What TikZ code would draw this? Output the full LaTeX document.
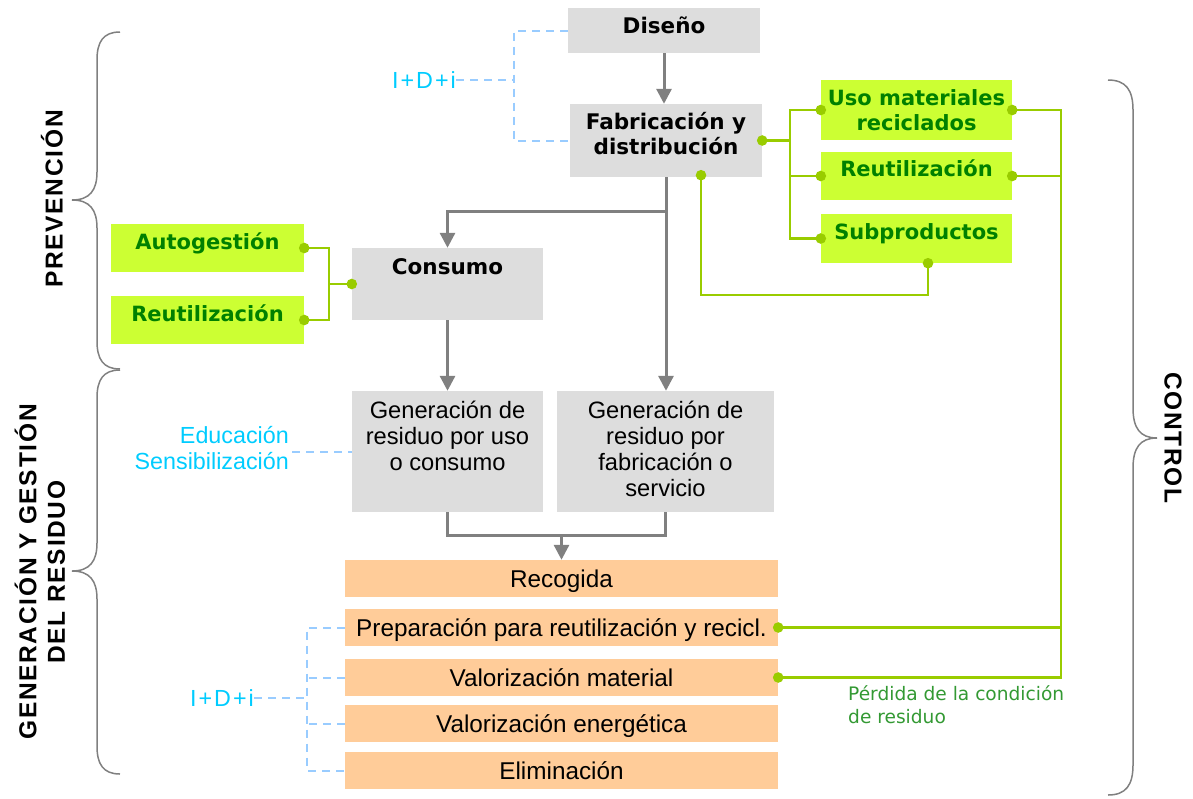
\documentclass[tikz,border=0pt]{standalone}
\usepackage{fontspec}
\setmainfont{Liberation Sans}
\newfontfamily\dvs{DejaVu Sans}
\newfontfamily\sidef[LetterSpace=7]{Liberation Sans}
\usetikzlibrary{arrows.meta,calc}
\definecolor{boxgray}{HTML}{DDDDDD}
\definecolor{argray}{HTML}{808080}
\definecolor{gfill}{HTML}{CCFF33}
\definecolor{dgreen}{HTML}{008000}
\definecolor{lineg}{HTML}{99CC00}
\definecolor{orng}{HTML}{FFCC99}
\definecolor{dblue}{HTML}{99CCFF}
\definecolor{tblue}{HTML}{00CCFF}
\definecolor{pgreen}{HTML}{339933}
\newcommand\tl[1]{\begin{tabular}[t]{@{}c@{}}#1\end{tabular}}
\tikzset{
  gbox/.style={fill=boxgray, inner sep=0pt, text=black},
  bfnt/.style={font=\dvs\bfseries\fontsize{21.5}{25}\selectfont},
  rfnt/.style={font=\fontsize{23.7}{26}\selectfont},
  grbox/.style={fill=gfill, inner sep=0pt, text=dgreen, font=\dvs\bfseries\fontsize{21}{25}\selectfont, text height=15.3pt, text depth=12pt, minimum width=191pt},
  obox/.style={fill=orng, inner sep=0pt, text=black, minimum width=433pt, minimum height=37pt, font=\fontsize{24.3}{26}\selectfont, text height=17.4pt, text depth=0pt},
  arr/.style={draw=argray, line width=3pt, -{Triangle[width=15pt,length=15pt]}},
  gline/.style={draw=argray, line width=3pt},
  gl/.style={draw=lineg, line width=2.3pt},
  dsh/.style={draw=dblue, line width=2pt, dash pattern=on 8pt off 6pt},
  bluetxt/.style={text=tblue, inner sep=0pt, font=\fontsize{23.3}{26}\selectfont},
  side/.style={inner sep=0pt, text=black, font=\sidef\bfseries\fontsize{24.5}{28.5}\selectfont},
  brace/.style={draw=argray, line width=1.5pt},
}
\begin{document}
\begin{tikzpicture}[x=1pt,y=-1pt]
\useasboundingbox (0,0) rectangle (1193,798);

% gray boxes
\node[gbox, bfnt, minimum width=192pt, minimum height=45pt, text height=15.7pt, text depth=10pt] (diseno) at (664,30.5) {Diseño};
\node[gbox, bfnt, minimum width=192pt, minimum height=73pt, text height=15.7pt, text depth=37pt] (fab) at (666,140.5) {\tl{Fabricación y\\distribución}};
\node[gbox, bfnt, minimum width=191pt, minimum height=72pt, text height=15.7pt, text depth=34pt] (consumo) at (447.5,284) {Consumo};
\node[gbox, rfnt, minimum width=191pt, minimum height=121pt, text height=17pt, text depth=83pt] (gen1) at (447.5,451.5) {\tl{Generación de\\residuo por uso\\o consumo}};
\node[gbox, rfnt, minimum width=217pt, minimum height=121pt, text height=17pt, text depth=83pt] (gen2) at (665.5,451.5) {\tl{Generación de\\residuo por\\fabricación o\\servicio}};

% green boxes
\node[grbox, minimum height=60pt, text depth=24pt] (uso) at (916.5,110) {\tl{Uso materiales\\reciclados}};
\node[grbox, minimum height=48pt, text depth=14pt] (reutr) at (916.5,176) {Reutilización};
\node[grbox, minimum height=49pt, text depth=13pt] (sub) at (916.5,238.5) {Subproductos};
\node[grbox, minimum width=193pt, minimum height=48pt] (auto) at (207.5,248) {Autogestión};
\node[grbox, minimum width=193pt, minimum height=48pt] (reutl) at (207.5,320) {Reutilización};

% orange boxes
\node[obox] (recog) at (561.5,578.5) {Recogida};
\node[obox] (prep) at (561.5,627.5) {Preparación para reutilización y recicl.};
\node[obox] (valmat) at (561.5,677.5) {Valorización material};
\node[obox] (valen) at (561.5,723.5) {Valorización energética};
\node[obox] (elim) at (561.5,770.5) {Eliminación};

% blue labels
\node[bluetxt, anchor=east] (idi1) at (456,80) {I\kern2pt+\kern2pt D\kern2pt+\kern2pt i};
\node[bluetxt, anchor=east, align=right] (edu) at (289,448) {Educación\\Sensibilización};
\node[bluetxt, anchor=east] (idi2) at (254,698) {I\kern2pt+\kern2pt D\kern2pt+\kern2pt i};

% green note
\node[anchor=north west, align=left, inner sep=0pt, text=pgreen, font=\dvs\fontsize{18.6}{23}\selectfont] (perd) at (848,685) {Pérdida de la condición\\de residuo};

% side labels
\node[side, rotate=90] (prev) at (52,199) {PREVENCIÓN};
\node[side, rotate=90, align=center] (genres) at (40,572) {GENERACIÓN Y GESTIÓN\\DEL RESIDUO};
\node[side, rotate=-90] (ctrl) at (1173,438) {CONTROL};

% braces
\draw[brace] (120,32) .. controls (103,32) and (97,42) .. (97,60) -- (97,172) .. controls (97,190) and (90,200) .. (72,200) .. controls (90,200) and (97,210) .. (97,228) -- (97,341) .. controls (97,359) and (103,369) .. (120,369);
\draw[brace] (120,370) .. controls (103,370) and (97,380) .. (97,398) -- (97,543) .. controls (97,561) and (90,571) .. (72,571) .. controls (90,571) and (97,581) .. (97,599) -- (97,746) .. controls (97,764) and (103,774) .. (120,774);
\draw[brace] (1108,80) .. controls (1126,80) and (1133,90) .. (1133,110) -- (1133,408) .. controls (1133,428) and (1140,438) .. (1157,438) .. controls (1140,438) and (1133,448) .. (1133,468) -- (1133,765) .. controls (1133,785) and (1126,795) .. (1108,795);

% gray arrows
\draw[arr] (diseno.south) -- (diseno.south |- fab.north);
\draw[arr] (fab.south) -- ++(0,34) -| (consumo.north);
\draw[arr] (fab.south) -- (fab.south |- gen2.north);
\draw[arr] (consumo.south) -- (gen1.north);
\coordinate (merge) at (561.5,535);
\draw[gline] (gen1.south) |- (merge) -| (gen2.south);
\draw[arr] (merge) -- (recog.north);

% green connectors
\coordinate (fj) at (790,140.5);
\draw[gl] (fab.east) -- (fj);
\draw[gl] (uso.west) -| (sub.west -| fj) -- (sub.west);
\draw[gl] (reutr.west) -- (reutr.west -| fj);
\coordinate (fabb) at ($(fab.south)+(35,-2)$);
\coordinate (subb) at ($(sub.south)+(11.5,0)$);
\draw[gl] (fabb) -- ++(0,120) -| (subb);
\coordinate (rj) at (1061,110);
\draw[gl] (uso.east) -- (rj) -- (rj |- valmat.east) -- (valmat.east);
\draw[gl] (reutr.east) -- (reutr.east -| rj);
\draw[gl] (prep.east) -- (prep.east -| rj);
\coordinate (lj) at (329,284);
\draw[gl] (auto.east) -| (reutl.east -| lj) -- (reutl.east);
\draw[gl] (lj) -- (consumo.west);
\fill[lineg] (fab.east) circle (5.3pt) (uso.west) circle (5.3pt) (reutr.west) circle (5.3pt) (sub.west) circle (5.3pt)
  (uso.east) circle (5.3pt) (reutr.east) circle (5.3pt) (prep.east) circle (5.3pt) (valmat.east) circle (5.3pt)
  (auto.east) circle (5.3pt) (reutl.east) circle (5.3pt) (consumo.west) circle (5.3pt) (fabb) circle (5.3pt) (subb) circle (5.3pt);

% dashed blue connectors
\coordinate (dj) at (514,80);
\draw[dsh] (diseno.west) -| (dj) |- (fab.west);
\draw[dsh] (idi1.east) -- (dj);
\draw[dsh] ([xshift=3pt]edu.east |- gen1.west) -- (gen1.west);
\coordinate (bj) at (307,698);
\draw[dsh] (idi2.east) -- (bj);
\draw[dsh] (prep.west) -| (elim.west -| bj) -- (elim.west);
\draw[dsh] (valmat.west) -- (valmat.west -| bj);
\draw[dsh] (valen.west) -- (valen.west -| bj);
\end{tikzpicture}
\end{document}
